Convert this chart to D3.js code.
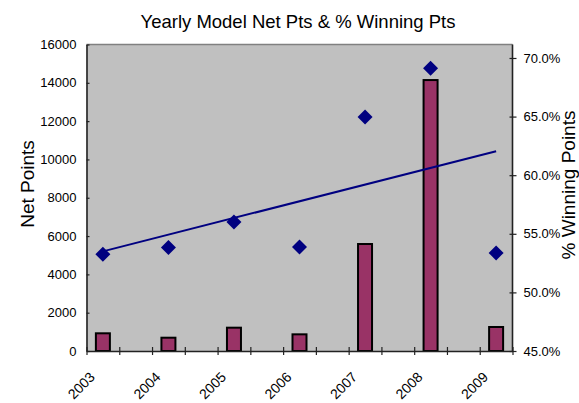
<!DOCTYPE html>
<html>
<head>
<meta charset="utf-8">
<script src="https://cdn.jsdelivr.net/npm/d3@7"></script>
<style>
  html, body { margin: 0; padding: 0; background: #fff; }
  svg text { font-family: "Liberation Sans", Arial, sans-serif; fill: #000; }
</style>
</head>
<body>
<svg id="chart" width="579" height="403"></svg>
<script>
// Season data
const years = ["2003", "2004", "2005", "2006", "2007", "2008", "2009"];
const netPoints = [924, 694, 1217, 870, 5585, 14144, 1253];
const winningPct = [0.5326, 0.5383, 0.5600, 0.5388, 0.6496, 0.6913, 0.5337];
const netTicks = [0, 2000, 4000, 6000, 8000, 10000, 12000, 14000, 16000];
const pctTicks = [0.45, 0.50, 0.55, 0.60, 0.65, 0.70];

const svg = d3.select("#chart");
const plot = { left: 86.5, right: 512.5, top: 44.5, bottom: 351 };

// Each year takes two slots on the category axis; ticks sit between slots
const slotCount = years.length * 2 - 1;
const x = d3.scaleLinear().domain([0, slotCount]).range([plot.left, plot.right]);
const yearX = i => x(i * 2 + 0.5);

const yLeft = d3.scaleLinear().domain([0, 16000]).range([plot.bottom, plot.top]);
const yRight = d3.scaleLinear().domain([0.45, 0.7115]).range([plot.bottom, plot.top]);

// Plot area
svg.append("rect")
  .attr("x", plot.left).attr("y", plot.top)
  .attr("width", plot.right - plot.left).attr("height", plot.bottom - plot.top)
  .attr("fill", "#c0c0c0");
svg.append("line")
  .attr("x1", plot.left).attr("x2", plot.right)
  .attr("y1", plot.top).attr("y2", plot.top)
  .attr("stroke", "#808080").attr("stroke-width", 1.5);

// Title
svg.append("text")
  .attr("x", 298).attr("y", 28)
  .attr("text-anchor", "middle")
  .style("font-size", "18.5px")
  .text("Yearly Model Net Pts & % Winning Pts");

// Bars: net points
const barW = 14;
svg.append("g").selectAll("rect").data(netPoints).join("rect")
  .attr("x", (d, i) => yearX(i) - barW / 2)
  .attr("y", d => yLeft(d))
  .attr("width", barW)
  .attr("height", d => yLeft(0) - yLeft(d))
  .attr("fill", "#993366")
  .attr("stroke", "#000")
  .attr("stroke-width", 2);

// Linear trend of winning percentage
const n = winningPct.length;
const meanX = d3.mean(winningPct, (d, i) => i);
const meanY = d3.mean(winningPct);
const slope = d3.sum(winningPct, (d, i) => (i - meanX) * (d - meanY)) /
              d3.sum(winningPct, (d, i) => (i - meanX) * (i - meanX));
const intercept = meanY - slope * meanX;
svg.append("line")
  .attr("x1", yearX(0)).attr("y1", yRight(intercept))
  .attr("x2", yearX(n - 1)).attr("y2", yRight(intercept + slope * (n - 1)))
  .attr("stroke", "#000080").attr("stroke-width", 2);

// Diamonds: winning percentage
const dm = 7.5;
svg.append("g").selectAll("path").data(winningPct).join("path")
  .attr("transform", (d, i) => `translate(${yearX(i)},${yRight(d)})`)
  .attr("d", `M0,${-dm}L${dm},0L0,${dm}L${-dm},0Z`)
  .attr("fill", "#000080");

// Axes
const axisColor = "#222";
const leftAxis = svg.append("g")
  .attr("transform", `translate(${plot.left},0)`)
  .call(d3.axisLeft(yLeft).tickValues(netTicks).tickFormat(d3.format("d"))
    .tickSizeInner(4).tickSizeOuter(0).tickPadding(6));
leftAxis.selectAll(".tick line").attr("x2", 3);

const rightAxis = svg.append("g")
  .attr("transform", `translate(${plot.right},0)`)
  .call(d3.axisRight(yRight).tickValues(pctTicks).tickFormat(d3.format(".1%"))
    .tickSizeInner(4).tickSizeOuter(0).tickPadding(7));
rightAxis.selectAll(".tick line").attr("x2", 4).attr("x1", -3);

const bottomAxis = svg.append("g")
  .attr("transform", `translate(0,${plot.bottom})`)
  .call(d3.axisBottom(x).tickValues(d3.range(0, slotCount + 1)).tickFormat("")
    .tickSizeInner(4).tickSizeOuter(0));
bottomAxis.selectAll(".tick line").attr("y1", -4);

[leftAxis, rightAxis, bottomAxis].forEach(g => {
  g.select(".domain").attr("stroke", axisColor).attr("stroke-width", 1.6);
  g.selectAll(".tick line").attr("stroke", axisColor).attr("stroke-width", 1.2);
  g.selectAll(".tick text")
    .style("font-family", '"Liberation Sans", Arial, sans-serif')
    .style("font-size", "13px").attr("fill", "#000");
});
rightAxis.select(".domain").attr("d", `M0,${plot.top}V${plot.bottom}`);

// Year labels, rotated
svg.append("g").selectAll("text").data(years).join("text")
  .attr("transform", (d, i) => `translate(${yearX(i) - 7},${plot.bottom + 27}) rotate(-45)`)
  .attr("text-anchor", "end")
  .style("font-size", "14px")
  .text(d => d);

// Axis titles
svg.append("text")
  .attr("transform", "translate(34,184) rotate(-90)")
  .attr("text-anchor", "middle")
  .style("font-size", "19px")
  .text("Net Points");
svg.append("text")
  .attr("transform", "translate(574.5,185) rotate(-90)")
  .attr("text-anchor", "middle")
  .style("font-size", "19px")
  .text("% Winning Points");
</script>
</body>
</html>
